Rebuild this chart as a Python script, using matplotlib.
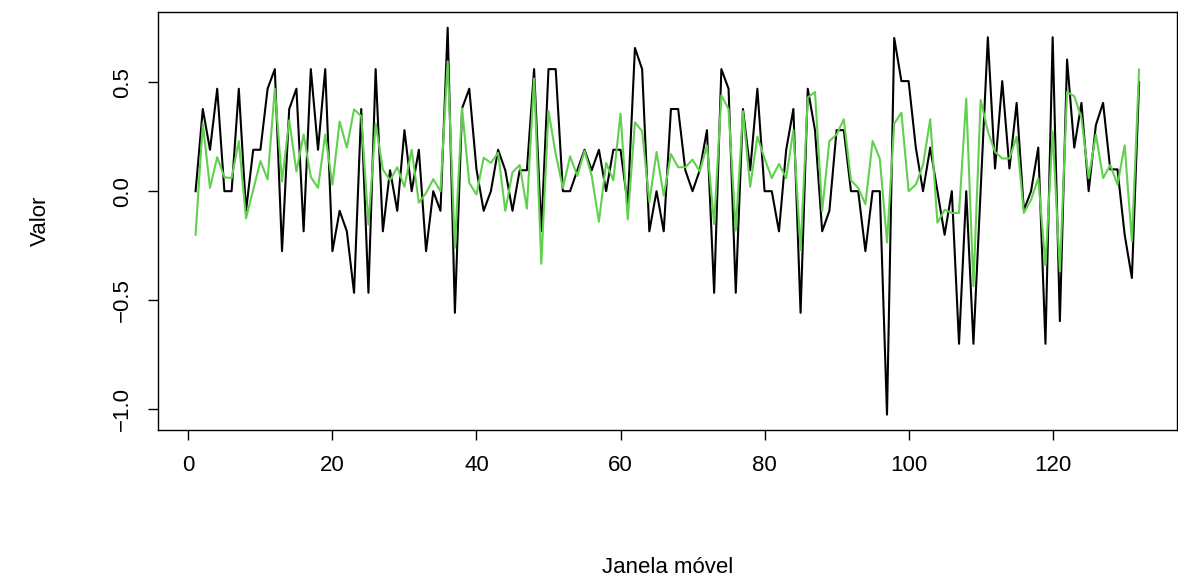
import numpy as np
import matplotlib
matplotlib.use("Agg")
import matplotlib.pyplot as plt

plt.rcParams['font.family'] = ['Liberation Sans', 'DejaVu Sans']

# valores (janela movel 1..132)
serie_preta = [
    0.0, 0.377, 0.19, 0.47, 0.0, 0.0, 0.47, -0.09, 0.19, 0.19,
    0.47, 0.56, -0.275, 0.377, 0.47, -0.184, 0.56, 0.19, 0.56, -0.275,
    -0.09, -0.184, -0.466, 0.377, -0.466, 0.56, -0.184, 0.096, -0.09, 0.28,
    0.0, 0.19, -0.275, 0.0, -0.09, 0.75, -0.558, 0.38, 0.47, 0.1,
    -0.09, 0.0, 0.19, 0.096, -0.09, 0.096, 0.096, 0.56, -0.184, 0.56,
    0.56, 0.0, 0.0, 0.096, 0.19, 0.096, 0.19, 0.0, 0.19, 0.19,
    -0.06, 0.657, 0.56, -0.184, 0.0, -0.184, 0.377, 0.377, 0.096, 0.0,
    0.096, 0.28, -0.466, 0.56, 0.47, -0.466, 0.377, 0.096, 0.47, 0.0,
    0.0, -0.184, 0.19, 0.377, -0.558, 0.47, 0.28, -0.184, -0.09, 0.28,
    0.28, 0.0, 0.0, -0.275, 0.0, 0.0, -1.025, 0.703, 0.505, 0.505,
    0.2, 0.0, 0.2, 0.0, -0.2, 0.0, -0.7, 0.0, -0.7, 0.0,
    0.706, 0.104, 0.505, 0.104, 0.405, -0.087, 0.0, 0.2, -0.7, 0.706,
    -0.596, 0.604, 0.2, 0.405, 0.0, 0.303, 0.405, 0.1, 0.1, -0.2,
    -0.398, 0.5,
]

serie_verde = [
    -0.20, 0.31, 0.015, 0.156, 0.064, 0.06, 0.23, -0.125, 0.006, 0.138,
    0.054, 0.47, 0.045, 0.325, 0.09, 0.26, 0.065, 0.015, 0.26, 0.03,
    0.32, 0.2, 0.375, 0.344, -0.153, 0.31, 0.1, 0.05, 0.11, 0.02,
    0.19, -0.053, -0.008, 0.055, 0.0, 0.596, -0.26, 0.38, 0.038, -0.015,
    0.153, 0.13, 0.176, -0.09, 0.087, 0.12, -0.08, 0.517, -0.333, 0.367,
    0.17, 0.015, 0.16, 0.07, 0.185, 0.07, -0.14, 0.13, 0.05, 0.356,
    -0.13, 0.316, 0.275, -0.05, 0.18, -0.02, 0.17, 0.11, 0.11, 0.145,
    0.09, 0.21, -0.15, 0.44, 0.377, -0.18, 0.367, 0.02, 0.25, 0.15,
    0.06, 0.125, 0.06, 0.28, -0.27, 0.43, 0.455, -0.09, 0.23, 0.26,
    0.33, 0.05, 0.015, -0.06, 0.23, 0.15, -0.235, 0.31, 0.36, 0.0,
    0.03, 0.12, 0.33, -0.145, -0.085, -0.1, -0.1, 0.425, -0.436, 0.418,
    0.275, 0.18, 0.15, 0.15, 0.25, -0.1, -0.04, 0.06, -0.34, 0.275,
    -0.367, 0.455, 0.436, 0.336, 0.06, 0.26, 0.06, 0.12, 0.03, 0.21,
    -0.23, 0.558,
]

x_ticks = [0, 20, 40, 60, 80, 100, 120]
y_ticks = [-1.0, -0.5, 0.0, 0.5]

x = np.arange(1, len(serie_preta) + 1)

fig = plt.figure(figsize=(11.78, 5.82), dpi=100)
ax = fig.add_axes([0.134, 0.261, 0.865, 0.718])

ax.plot(x, serie_preta, color='black', lw=1.5)
ax.plot(x, serie_verde, color='#61D04F', lw=1.5)

# limites como no R (4% de folga)
def r_lim(v):
    lo, hi = min(v), max(v)
    d = (hi - lo) * 0.04
    return lo - d, hi + d

ax.set_xlim(*r_lim(x))
ax.set_ylim(*r_lim(serie_preta + serie_verde))

ax.set_xticks(x_ticks)
ax.set_xticklabels([str(t) for t in x_ticks])
ax.set_yticks(y_ticks)
ax.set_yticklabels(['\u2212%.1f' % abs(t) if t < 0 else '%.1f' % t for t in y_ticks],
                   rotation=90, va='center')
ax.tick_params(direction='out', length=7, width=1, labelsize=16, pad=11)

for s in ax.spines.values():
    s.set_linewidth(1)

ax.set_xlabel('Janela móvel', fontsize=16, labelpad=58)
ax.set_ylabel('Valor', fontsize=16, labelpad=44)

fig.savefig('out.png', dpi=100)
